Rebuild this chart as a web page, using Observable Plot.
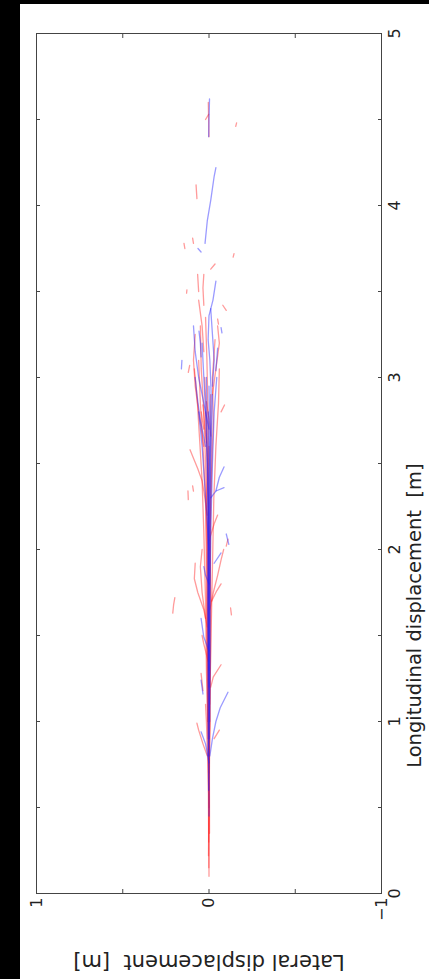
<!DOCTYPE html>
<html><head><meta charset="utf-8">
<script src="https://cdn.jsdelivr.net/npm/d3@7"></script>
<script src="https://cdn.jsdelivr.net/npm/@observablehq/plot@0.6"></script>
<style>
html,body{margin:0;padding:0;background:#000;width:429px;height:979px;overflow:hidden}
#wrap{position:absolute;left:20px;top:4px;width:409px;height:975px;background:#fff}
</style></head><body><div id="wrap"></div>
<script>
// Axis labels and ticks
const xLabel = "Lateral displacement\u00a0 [m]";
const yLabel = "Longitudinal displacement\u00a0 [m]";
const latTicks = [1, 0.5, 0, -0.5, -1];
const lonTicks = [0, 0.5, 1, 1.5, 2, 2.5, 3, 3.5, 4, 4.5, 5];

// Red trajectories: each is a list of [longitudinal, lateral] points (m)
const redTracks = [
  [[0.10,0.000],[0.40,0.001],[0.80,-0.002],[1.20,0.003],[1.60,-0.002],[2.00,0.003],[2.40,0.000],[2.80,0.006],[3.10,0.012],[3.35,0.020]],
  [[0.22,0.003],[0.60,0.000],[1.00,0.004],[1.40,0.008],[1.80,0.002],[2.20,0.012],[2.50,0.020],[2.80,0.030],[3.05,0.045],[3.30,0.050]],
  [[0.35,-0.003],[0.90,-0.002],[1.30,-0.008],[1.70,-0.010],[2.10,-0.006],[2.45,-0.015],[2.75,-0.025],[3.00,-0.020],[3.22,-0.035]],
  [[0.60,0.002],[1.00,-0.006],[1.50,0.012],[1.90,0.015],[2.30,0.020],[2.60,0.035],[2.85,0.050],[3.10,0.060]],
  [[0.90,0.005],[1.30,0.015],[1.70,0.020],[2.10,0.030],[2.40,0.040],[2.65,0.055],[2.90,0.070],[3.05,0.085]],
  [[1.10,-0.004],[1.50,-0.012],[1.90,-0.020],[2.30,-0.028],[2.60,-0.040],[2.85,-0.055],[3.05,-0.060]],
  [[0.15,0.001],[0.50,-0.001],[0.90,0.002],[1.25,0.000],[1.65,0.005],[2.05,-0.003],[2.35,0.005],[2.60,0.000]],
  [[0.30,0.002],[0.70,0.004],[1.10,0.006],[1.50,0.004],[1.90,0.008],[2.30,0.006],[2.70,0.012],[3.00,0.025]],
  [[0.70,-0.002],[1.10,-0.006],[1.50,-0.004],[1.90,-0.008],[2.30,-0.010],[2.60,-0.012],[2.90,-0.010]],
  [[1.00,0.008],[1.40,0.012],[1.80,0.010],[2.20,0.016],[2.50,0.010],[2.80,0.020]],
  [[2.20,0.010],[2.34,0.030],[2.40,0.040],[2.47,0.065],[2.53,0.090],[2.58,0.110]],
  [[1.55,0.010],[1.65,0.030],[1.75,0.065],[1.83,0.085],[1.92,0.080]],
  [[1.63,0.210],[1.68,0.205],[1.72,0.198]],
  [[1.65,-0.005],[1.75,-0.025],[1.85,-0.050],[1.94,-0.070],[2.00,-0.085]],
  [[1.70,-0.015],[1.76,-0.045],[1.80,-0.070]],
  [[1.20,-0.010],[1.26,-0.025],[1.33,-0.070]],
  [[1.18,0.035],[1.28,0.046]],
  [[0.80,0.010],[0.87,0.035],[0.95,0.060],[0.99,0.070]],
  [[0.90,-0.030],[0.95,-0.060]],
  [[3.50,0.060],[3.60,0.066]],
  [[3.42,0.030],[3.52,0.035],[3.60,0.030]],
  [[3.63,-0.010],[3.66,-0.035]],
  [[3.39,-0.100],[3.42,-0.080]],
  [[3.31,-0.055],[3.34,-0.050]],
  [[3.03,0.120],[3.07,0.112]],
  [[4.40,0.000],[4.50,0.002],[4.60,0.004]],
  [[4.50,0.020],[4.53,0.002]],
  [[4.04,0.070],[4.12,0.075]],
  [[3.78,0.090],[3.81,0.095]],
  [[4.46,-0.155],[4.48,-0.160]],
  [[3.70,-0.140],[3.72,-0.145]],
  [[2.80,-0.070],[2.84,-0.090]],
  [[2.29,0.120],[2.34,0.122]],
  [[2.34,0.090],[2.37,0.095]],
  [[2.02,-0.100],[2.06,-0.110]],
  [[1.62,-0.130],[1.66,-0.125]],
  [[1.60,0.020],[1.75,0.040],[1.90,0.050],[2.00,0.040]],
  [[2.60,0.030],[2.80,0.060],[2.95,0.080],[3.10,0.090],[3.25,0.080]],
  [[2.90,-0.020],[3.05,-0.040],[3.20,-0.060],[3.30,-0.050]],
  [[3.15,0.030],[3.30,0.040],[3.45,0.060]],
  [[0.50,0.000],[0.70,0.005],[1.00,0.015],[1.10,0.020]],
  [[1.35,0.005],[1.45,0.030],[1.50,0.040]],
  [[2.05,0.000],[2.15,-0.030],[2.20,-0.050]],
  [[2.70,0.030],[2.80,0.045]],
  [[2.62,0.015],[2.72,0.025],[2.84,0.035]],
  [[2.66,-0.010],[2.76,0.000],[2.86,0.015]],
  [[3.75,0.140],[3.78,0.145]],
  [[3.49,0.130],[3.51,0.128]]
];

// Blue trajectories: each is a list of [longitudinal, lateral] points (m)
const blueTracks = [
  [[0.45,0.000],[0.75,0.000],[1.10,-0.002],[1.50,0.000],[1.90,-0.002],[2.30,-0.004],[2.60,-0.008],[2.92,-0.012],[3.10,-0.005],[3.22,0.005],[3.36,0.000],[3.45,-0.023],[3.56,-0.040]],
  [[0.60,0.002],[1.00,0.003],[1.40,0.002],[1.80,0.005],[2.20,0.004],[2.50,0.010],[2.80,0.020],[3.00,0.030],[3.20,0.040]],
  [[0.90,-0.002],[1.30,-0.004],[1.70,-0.006],[2.10,-0.010],[2.50,-0.020],[2.80,-0.030],[3.00,-0.045]],
  [[1.20,0.001],[1.60,0.003],[2.00,0.001],[2.40,0.000],[2.70,-0.005],[2.95,0.000]],
  [[0.80,0.004],[1.20,0.006],[1.60,0.008],[2.00,0.006],[2.40,0.008],[2.70,0.012],[3.00,0.015]],
  [[1.00,-0.004],[1.40,-0.006],[1.80,-0.004],[2.20,-0.006],[2.60,-0.012],[2.90,-0.020]],
  [[1.30,0.000],[1.70,-0.001],[2.10,0.002],[2.50,0.000],[2.80,0.004]],
  [[0.80,-0.005],[0.90,-0.020],[1.00,-0.040],[1.08,-0.065],[1.17,-0.110]],
  [[0.76,0.000],[0.87,0.020],[0.94,0.046]],
  [[1.41,0.000],[1.49,0.030],[1.60,0.046]],
  [[1.16,0.035],[1.24,0.046]],
  [[1.92,-0.030],[1.98,-0.070]],
  [[2.30,-0.010],[2.34,-0.040],[2.42,-0.060],[2.48,-0.087]],
  [[2.34,-0.040],[2.36,-0.087]],
  [[2.03,-0.115],[2.09,-0.100]],
  [[3.78,0.023],[3.91,0.010],[4.03,-0.010],[4.17,-0.030],[4.22,-0.040]],
  [[4.40,0.002],[4.50,0.000],[4.62,-0.003]],
  [[3.73,0.046],[3.75,0.064]],
  [[3.26,-0.075],[3.29,-0.070]],
  [[3.12,0.046],[3.20,0.050],[3.27,0.058]],
  [[3.05,0.160],[3.10,0.157]],
  [[3.04,-0.040],[3.17,-0.050]],
  [[2.60,0.020],[2.75,0.050],[2.90,0.070],[3.00,0.080]],
  [[2.00,0.000],[2.30,0.020],[2.60,0.040],[2.80,0.060]],
  [[1.80,0.000],[1.85,0.020],[1.90,0.030]],
  [[2.70,0.000],[2.85,0.030],[3.00,0.060],[3.15,0.080],[3.30,0.090]],
  [[2.95,-0.020],[3.10,-0.030],[3.25,-0.020],[3.40,-0.010]]
];

function toRows(tracks, prefix) {
  const out = [];
  tracks.forEach((t, i) => t.forEach(([lon, lat]) => out.push({track: prefix + i, lon, lat})));
  return out;
}
const redRows = toRows(redTracks, "r");
const blueRows = toRows(blueTracks, "b");
const fmt = d3.format("d");

const chart = Plot.plot({
  width: 409, height: 975,
  marginLeft: 16, marginRight: 48, marginTop: 29, marginBottom: 86,
  style: {background: "#fff", fontFamily: "DejaVu Sans, sans-serif", fontSize: "16px", color: "#222", overflow: "hidden"},
  x: {domain: [1, -1]},
  y: {domain: [0, 5]},
  marks: [
    Plot.line(redRows, {x: "lat", y: "lon", z: "track", stroke: "#ff2222", strokeOpacity: 0.45, strokeWidth: 1.3}),
    Plot.line(blueRows, {x: "lat", y: "lon", z: "track", stroke: "#2222ff", strokeOpacity: 0.45, strokeWidth: 1.3}),
    Plot.frame({stroke: "#444"}),
    Plot.axisX(latTicks, {anchor: "bottom", tickSize: -4, tickPadding: 8, tickRotate: -90, stroke: "#444",
      tickFormat: d => Number.isInteger(d) ? fmt(d) : "", label: null}),
    Plot.axisX(latTicks, {anchor: "top", tickSize: -4, stroke: "#444", tickFormat: () => "", label: null}),
    Plot.axisY(lonTicks, {anchor: "right", tickSize: -4, tickPadding: 11, tickRotate: -90, lineAnchor: "top", textAnchor: "middle", stroke: "#444",
      tickFormat: d => Number.isInteger(d) ? fmt(d) : "", label: null}),
    Plot.axisY(lonTicks, {anchor: "left", tickSize: -4, stroke: "#444", tickFormat: () => "", label: null}),
    Plot.text([xLabel], {text: d => d, frameAnchor: "bottom", rotate: 180, dy: 61, fontSize: 21, fill: "#222"}),
    Plot.text([yLabel], {text: d => d, frameAnchor: "right", rotate: -90, dx: 26, lineAnchor: "top", fontSize: 19.5, fill: "#222"})
  ]
});
document.getElementById("wrap").appendChild(chart);
</script></body></html>
